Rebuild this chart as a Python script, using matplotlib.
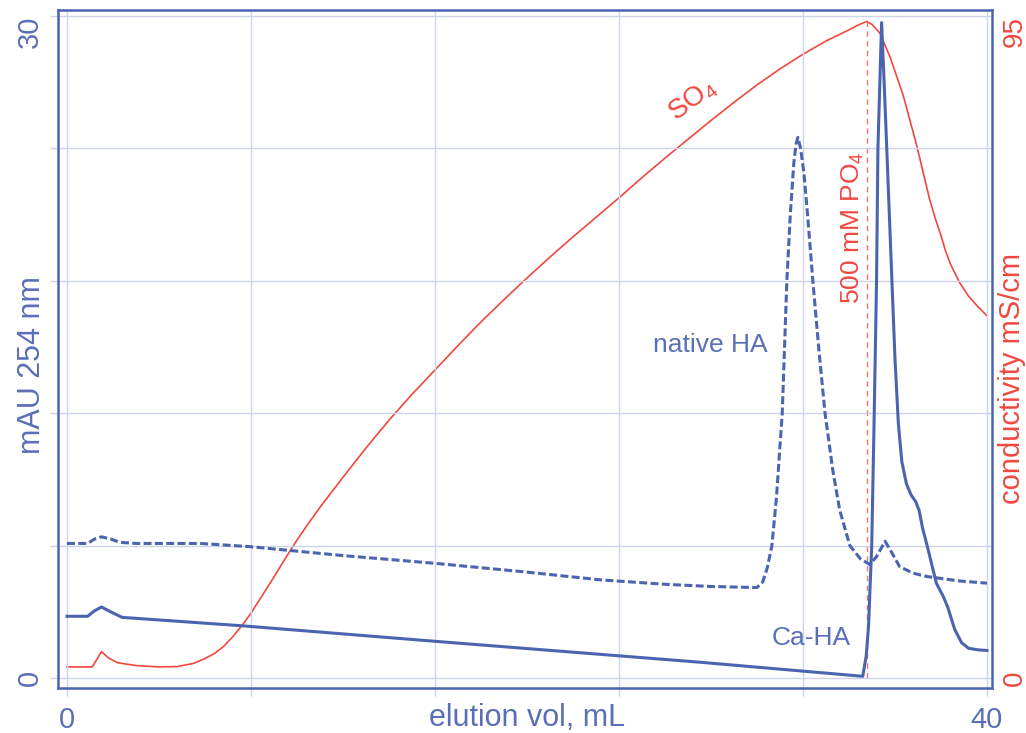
import matplotlib
matplotlib.use("Agg")
import matplotlib.pyplot as plt

plt.rcParams['font.family'] = ['Liberation Sans', 'DejaVu Sans']
plt.rcParams['mathtext.fontset'] = 'custom'
plt.rcParams['mathtext.rm'] = 'Liberation Sans'

BLUE = '#4a64b0'
BLUE_TXT = '#5a6fb8'
RED = '#f04840'
GRID = '#cdd3ea'

# Ca-HA trace (solid), mAU 254 nm
vol_ca = [0.0, 0.9, 1.2, 1.5, 1.9, 2.4, 7.6, 15.35, 27.5, 34.6, 34.75, 34.85, 34.99, 35.1, 35.2,
          35.26, 35.42, 35.55, 35.7, 35.85, 36.0, 36.15, 36.3, 36.5, 36.7, 36.9, 37.05, 37.2,
          37.4, 37.8, 38.1, 38.3, 38.6, 38.9, 39.2, 39.6, 40.0]
uv_ca = [2.8, 2.8, 3.05, 3.22, 3.0, 2.75, 2.37, 1.72, 0.72, 0.08, 1.0, 2.3, 6.0, 12.0, 18.0,
         24.0, 29.7, 26.5, 22.5, 18.5, 14.5, 11.5, 9.8, 8.8, 8.3, 8.0, 7.6, 6.8,
         6.0, 4.3, 3.7, 3.2, 2.2, 1.6, 1.35, 1.28, 1.25]

# native HA trace (dashed), mAU 254 nm
vol_nat = [0.0, 0.9, 1.2, 1.5, 1.9, 2.3, 3.0, 5.8, 8.0, 9.7, 12.0, 16.0, 20.0, 23.2, 26.0,
           28.0, 30.0, 30.25, 30.45, 30.65, 30.85, 31.0, 31.1, 31.2, 31.3, 31.45, 31.6, 31.7,
           31.78, 31.9, 32.05, 32.2, 32.43, 32.7, 32.96, 33.3, 33.6, 34.04, 34.5, 34.9, 35.2,
           35.57, 35.8, 36.2, 36.8, 37.4, 38.8, 40.0]
uv_nat = [6.1, 6.1, 6.3, 6.4, 6.3, 6.15, 6.1, 6.1, 5.95, 5.78, 5.55, 5.2, 4.8, 4.45, 4.25,
          4.15, 4.1, 4.35, 5.0, 6.0, 8.2, 10.5, 12.0, 15.0, 18.0, 21.0, 23.3, 24.2,
          24.5, 24.0, 22.8, 21.0, 18.0, 14.8, 12.0, 9.4, 7.6, 6.0, 5.4, 5.15, 5.5,
          6.2, 5.8, 5.05, 4.75, 4.6, 4.4, 4.3]

# conductivity, mS/cm
vol_cond = [0.0, 1.1, 1.5, 1.8, 2.2, 3.0, 4.0, 4.8, 5.5, 6.0, 6.4, 6.8, 7.2, 7.6, 8.0, 8.5,
            9.0, 9.5, 10.0, 10.5, 11.0, 12.0, 13.0, 14.0, 15.0, 16.0, 17.0, 18.0, 19.0, 20.0,
            21.0, 22.0, 23.0, 24.0, 25.0, 26.0, 27.0, 28.0, 29.0, 30.0, 31.0, 32.0, 33.0, 34.0,
            34.4, 34.77, 35.0, 35.35, 35.8, 36.36, 36.94, 37.5, 37.75, 38.0, 38.2, 38.4, 38.8,
            39.2, 39.6, 40.0]
cond = [1.6, 1.6, 3.8, 2.9, 2.2, 1.8, 1.6, 1.65, 2.1, 2.8, 3.5, 4.5, 5.9, 7.5, 9.3, 11.9,
        14.5, 17.2, 19.8, 22.2, 24.5, 28.8, 33.0, 37.0, 40.7, 44.2, 47.7, 51.1, 54.3, 57.4,
        60.4, 63.3, 66.1, 68.9, 71.8, 74.6, 77.3, 80.0, 82.6, 85.1, 87.4, 89.5, 91.4, 93.0,
        93.7, 94.2, 93.8, 92.5, 89.0, 83.6, 76.5, 68.8, 66.0, 63.5, 61.3, 59.5, 56.8,
        54.8, 53.3, 52.0]

po4_step = 34.77

x_ticks = [0, 8, 16, 24, 32, 40]
x_labels = ['0', '', '', '', '', '40']
uv_ticks = [0, 6, 12, 18, 24, 30]
uv_labels = ['0', '', '', '', '', '30']
cond_ticks = [0, 95]

fig = plt.figure(figsize=(10.26, 7.33), dpi=100)
ax = fig.add_axes([58 / 1026, 1 - 688 / 733, 934 / 1026, 678 / 733])
ax2 = ax.twinx()
ax.set_zorder(ax2.get_zorder() + 1)
ax.patch.set_visible(False)

# conductivity on the right axis
ax2.plot(vol_cond, cond, color=RED, lw=1.2)
ax2.vlines(po4_step, 0, max(cond), color=RED, lw=1.0, alpha=0.75, linestyles=(0, (4, 3)))

# UV traces
ax.plot(vol_nat, uv_nat, color=BLUE, lw=2.2, linestyle=(0, (2.6, 1.1)))
ax.plot(vol_ca, uv_ca, color=BLUE, lw=2.2)

ax.set_xlim(-0.39, 40.22)
ax.set_ylim(-0.45, 30.27)
ax2.set_ylim(-0.45 * 95 / 30, 30.27 * 95 / 30)

ax.set_xticks(x_ticks)
ax.set_xticklabels(x_labels)
ax.set_yticks(uv_ticks)
ax.set_yticklabels(uv_labels)
ax2.set_yticks(cond_ticks)
ax2.set_yticklabels([str(t) for t in cond_ticks])

ax.grid(True, color=GRID, lw=1.0)
ax.tick_params(axis='both', direction='out', length=6, width=1, color=GRID,
               labelsize=21, labelcolor=BLUE_TXT)
ax.tick_params(axis='x', pad=7)
ax.tick_params(axis='y', pad=4, labelrotation=90)
for lab in ax.get_yticklabels():
    lab.set_va('center')
ax.get_yticklabels()[-1].set_va('top')
ax2.tick_params(axis='y', length=0, labelsize=20, labelcolor=RED, pad=7, labelrotation=90)
for lab in ax2.get_yticklabels():
    lab.set_va('center')
ax2.get_yticklabels()[-1].set_va('top')

for s in ax.spines.values():
    s.set_color(BLUE)
    s.set_linewidth(1.8)
for s in ax2.spines.values():
    s.set_visible(False)

# annotations
ax.text(27.2, 26.2, 'SO$_4$', color=RED, fontsize=20, rotation=37,
        ha='center', va='center', rotation_mode='anchor')
ax.text(27.96, 15.1, 'native HA', color=BLUE_TXT, fontsize=19, ha='center', va='center')
ax.text(32.35, 1.81, 'Ca-HA', color=BLUE_TXT, fontsize=19, ha='center', va='center')
ax.text(34.15, 20.4, '500 mM PO$_4$', color=RED, fontsize=19, rotation=90,
        ha='center', va='center')

# axis titles
fig.text(527 / 1026, 1 - 718 / 733, 'elution vol, mL', color=BLUE_TXT, fontsize=22,
         ha='center', va='center')
fig.text(32 / 1026, 1 - 365 / 733, 'mAU 254 nm', color=BLUE_TXT, fontsize=22,
         rotation=90, ha='center', va='center')
fig.text(1012 / 1026, 1 - 378 / 733, 'conductivity mS/cm', color=RED, fontsize=21,
         rotation=90, ha='center', va='center')

fig.savefig('out.png', dpi=100)
